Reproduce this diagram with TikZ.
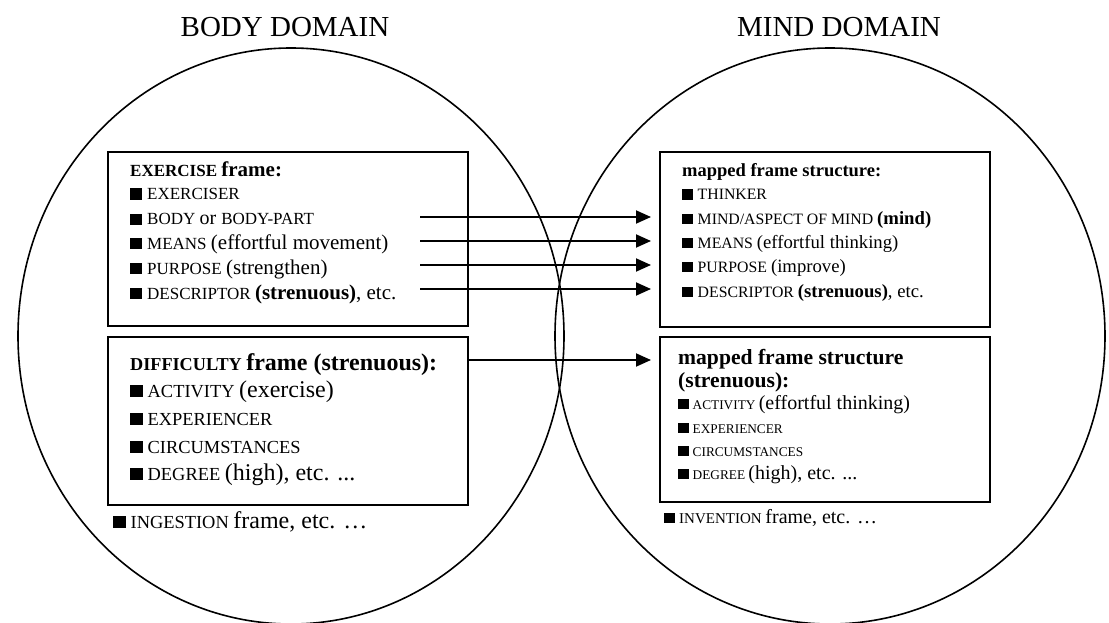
\documentclass[tikz,border=0pt]{standalone}
\usepackage{fontspec}
\setmainfont{Liberation Serif}
\usetikzlibrary{arrows.meta}

% font size in points (1pt = one unit of the drawing grid)
\newcommand\fs[1]{\fontsize{#1}{#1}\selectfont}
% black square bullet sitting on the baseline
\newcommand\blt[2]{\rule{#1}{#1}\hspace{#2}}

\begin{document}
\begin{tikzpicture}[x=1pt,y=-1pt,
  domainline/.style={line width=1.6pt},
  framebox/.style={draw,line width=2.6pt},
  domtitle/.style={font=\fs{29}},
  textline/.style={anchor=base west,inner sep=0pt},
  maparrow/.style={line width=1.9pt,-{Triangle[length=15pt,width=13pt]}}]
\useasboundingbox (0,0) rectangle (1109,623);
\clip (0,0) rectangle (1109,623);

% the two domains
\draw[domainline] (291,336) ellipse [x radius=273,y radius=288];
\draw[domainline] (830,336) ellipse [x radius=275,y radius=288];
\node[domtitle,anchor=base] (bodyt) at (285,37) {BODY DOMAIN};
\node[domtitle,anchor=base] (mindt) at (839,37) {MIND DOMAIN};

% frame boxes
\draw[framebox] (108,152) rectangle (468,326);
\draw[framebox] (108,337) rectangle (468,505);
\draw[framebox] (660,152) rectangle (990,327);
\draw[framebox] (660,337) rectangle (990,502);

% body domain: exercise frame
\node[textline] (ex0) at (130,176) {\bfseries\fs{17}EXERCISE \fs{21}frame:};
\node[textline] (ex1) at (130,200) {\fs{17}\blt{11.5pt}{5.5pt}EXERCISER};
\node[textline] (ex2) at (130,225) {\fs{17}\blt{11.5pt}{5.5pt}BODY \fs{20}or \fs{17}BODY-PART};
\node[textline] (ex3) at (130,249) {\fs{17}\blt{11.5pt}{5.5pt}MEANS \fs{21}(effortful movement)};
\node[textline] (ex4) at (130,274) {\fs{17}\blt{11.5pt}{5.5pt}PURPOSE \fs{21}(strengthen)};
\node[textline] (ex5) at (130,299) {\fs{17}\blt{11.5pt}{5.5pt}DESCRIPTOR \fs{21}\textbf{(strenuous)}, etc.};

% body domain: difficulty frame
\node[textline] (df0) at (130,370) {\bfseries\fs{18.2}DIFFICULTY \fs{24}frame (strenuous):};
\node[textline] (df1) at (130,397) {\fs{18.4}\blt{12.5pt}{5pt}ACTIVITY \fs{24}(exercise)};
\node[textline] (df2) at (130,425) {\fs{18.4}\blt{12.5pt}{5pt}EXPERIENCER};
\node[textline] (df3) at (130,453) {\fs{18.4}\blt{12.5pt}{5pt}CIRCUMSTANCES};
\node[textline] (df4) at (130,480) {\fs{18.4}\blt{12.5pt}{5pt}DEGREE \fs{24}(high), etc. ...};
\node[textline] (ing) at (113,528) {\fs{18.4}\blt{12.5pt}{5pt}INGESTION \fs{24}frame, etc. \dots};

% mind domain: mapped exercise structure
\node[textline] (mp0) at (682,176) {\bfseries\fs{18.5}mapped frame structure:};
\node[textline] (mp1) at (682,200) {\fs{15.8}\blt{10.5pt}{5pt}THINKER};
\node[textline] (mp2) at (682,224) {\fs{15.8}\blt{10.5pt}{5pt}MIND/ASPECT OF MIND \fs{18.7}\textbf{(mind)}};
\node[textline] (mp3) at (682,248) {\fs{15.8}\blt{10.5pt}{5pt}MEANS \fs{18.7}(effortful thinking)};
\node[textline] (mp4) at (682,272) {\fs{15.8}\blt{10.5pt}{5pt}PURPOSE \fs{18.7}(improve)};
\node[textline] (mp5) at (682,297) {\fs{15.8}\blt{10.5pt}{5pt}DESCRIPTOR \fs{18.7}\textbf{(strenuous)}, etc.};

% mind domain: mapped difficulty structure
\node[textline] (md0) at (678,364) {\bfseries\fs{21.6}mapped frame structure};
\node[textline] (md1) at (678,387) {\bfseries\fs{21.6}(strenuous):};
\node[textline] (md2) at (678,409) {\fs{13.3}\blt{10.5pt}{4pt}ACTIVITY \fs{20}(effortful thinking)};
\node[textline] (md3) at (678,433) {\fs{13.3}\blt{10.5pt}{4pt}EXPERIENCER};
\node[textline] (md4) at (678,456) {\fs{13.3}\blt{10.5pt}{4pt}CIRCUMSTANCES};
\node[textline] (md5) at (678,479) {\fs{13.3}\blt{10.5pt}{4pt}DEGREE \fs{20}(high), etc. ...};
\node[textline] (inv) at (664,523) {\fs{15}\blt{10.5pt}{4.5pt}INVENTION \fs{20}frame, etc. \dots};

% mapping arrows
\coordinate (s1) at (420,217); \coordinate (t1) at (651,217);
\coordinate (s2) at (420,241); \coordinate (t2) at (651,241);
\coordinate (s3) at (420,265); \coordinate (t3) at (651,265);
\coordinate (s4) at (420,289); \coordinate (t4) at (651,289);
\coordinate (s5) at (468,360); \coordinate (t5) at (651,360);
\foreach \i in {1,...,5} \draw[maparrow] (s\i) -- (t\i);
\end{tikzpicture}
\end{document}
